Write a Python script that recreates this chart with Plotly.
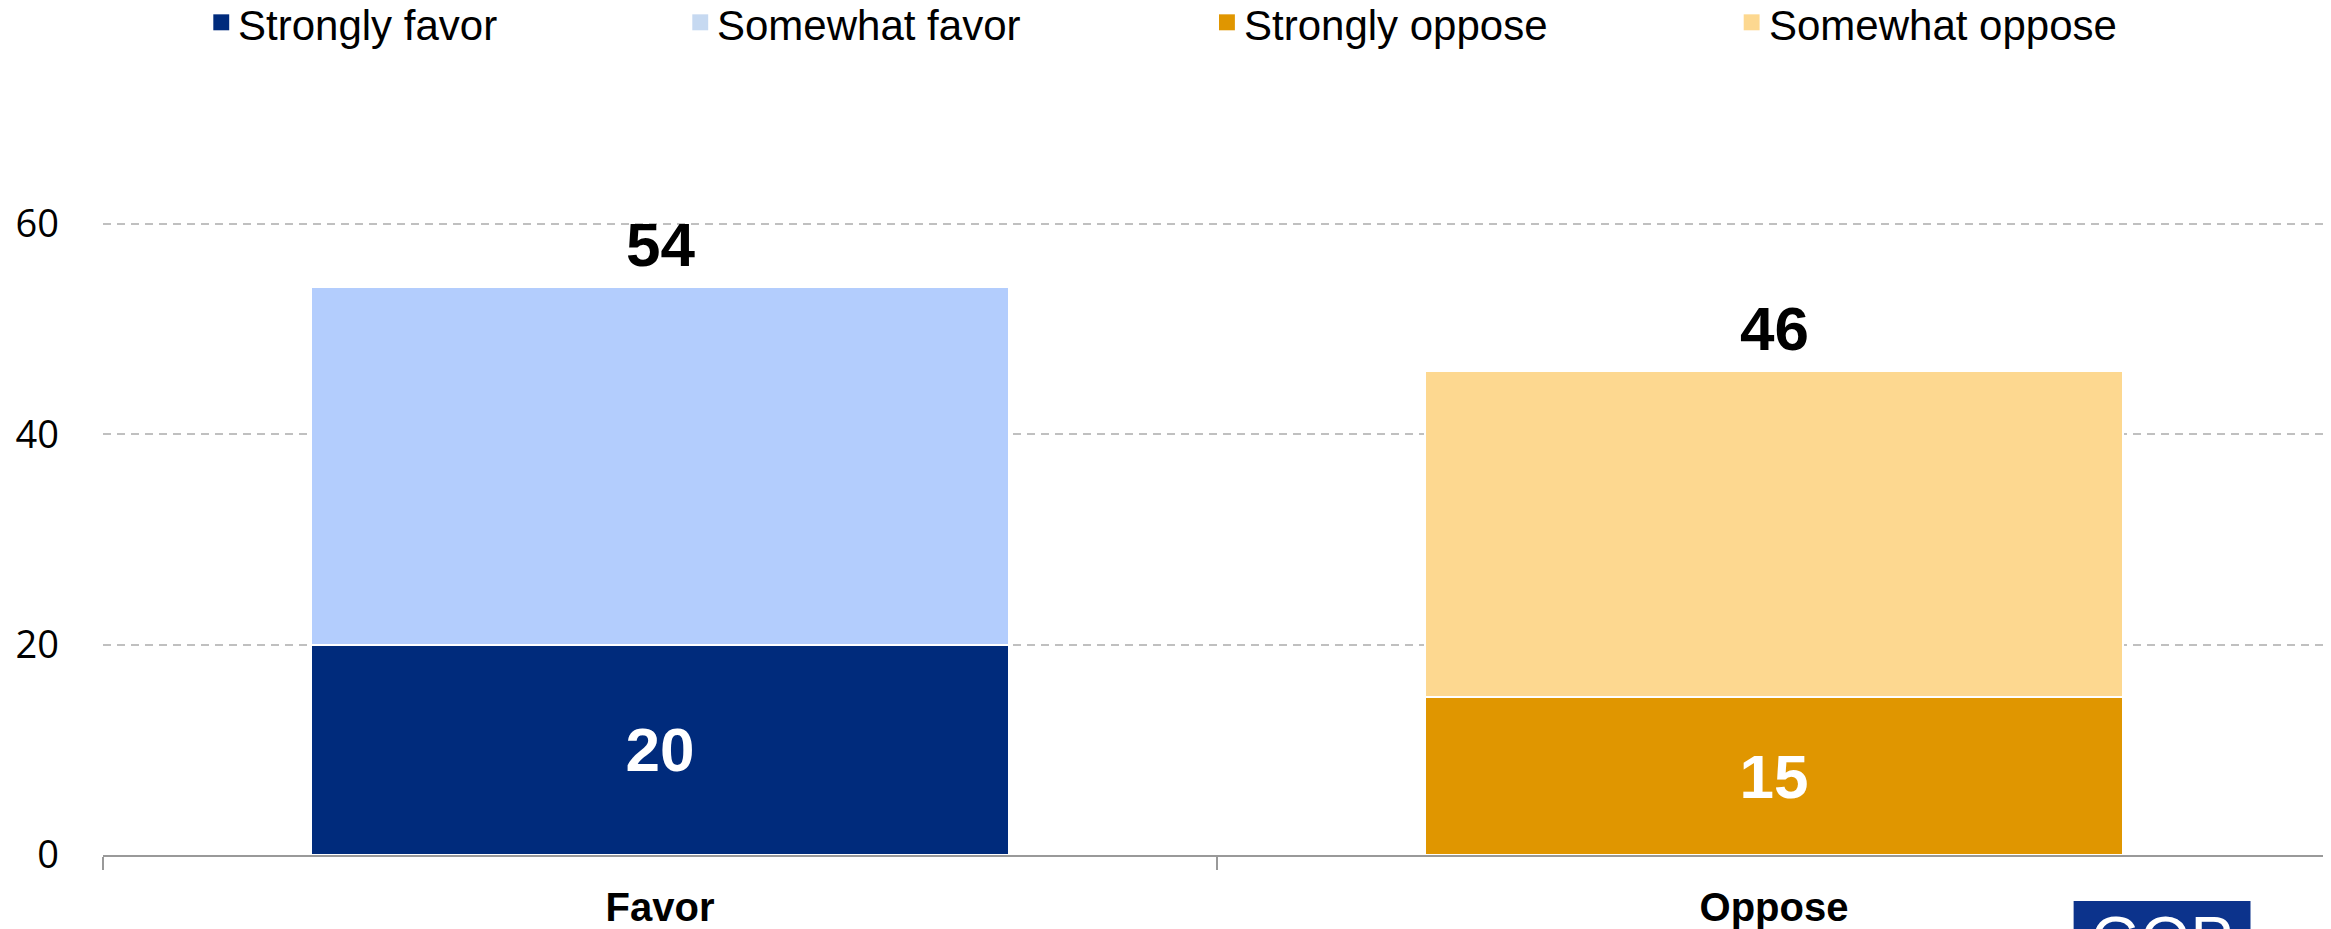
import plotly.graph_objects as go

categories = ["Favor", "Oppose"]
series_names = ["Strongly favor", "Somewhat favor", "Strongly oppose", "Somewhat oppose"]
series_x = [["Favor"], ["Favor"], ["Oppose"], ["Oppose"]]
series_values = [[20], [34], [15], [31]]
series_colors = ["#002B7C", "#B3CDFD", "#E09600", "#FDD890"]
legend_colors = ["#002B7C", "#C6D9F1", "#E09600", "#FDD890"]
show_inside_label = [True, False, True, False]
totals = [54, 46]
y_ticks = [0, 20, 40, 60]

# page offset (browser default body margin)
OFF = 8
W, H = 2331, 929
ML, MR, MT, MB = 81, 8, 213, 81
PW = W - ML - MR
PH = H - MT - MB


def sx(px):
    """screen x pixel -> paper x"""
    return (px - OFF - ML) / PW


def sy(py):
    """screen y pixel -> paper y"""
    return (H - MB - (py - OFF)) / PH


fig = go.Figure()

for i, name in enumerate(series_names):
    fig.add_trace(go.Bar(
        name=name,
        x=series_x[i],
        y=series_values[i],
        marker=dict(color=series_colors[i], line=dict(color="white", width=2)),
        text=[str(v) for v in series_values[i]] if show_inside_label[i] else None,
        textposition="inside" if show_inside_label[i] else "none",
        insidetextanchor="middle",
        textangle=0,
        textfont=dict(family="Liberation Sans, Arial, sans-serif", size=62, color="white", weight="bold"),
        showlegend=False,
        hoverinfo="skip",
        cliponaxis=False,
    ))

for c, t in zip(categories, totals):
    fig.add_annotation(
        x=c, y=t, xref="x", yref="y",
        text="<b>%d</b>" % t,
        showarrow=False,
        yanchor="bottom",
        yshift=6,
        font=dict(family="Liberation Sans, Arial, sans-serif", size=62, color="black"),
    )

# legend row (drawn as marks + text at the top)
legend_marker_centers = [208, 690, 1220, 1748]
LEG_Y = 25
SQ = 8
for name, col, mc in zip(series_names, legend_colors, legend_marker_centers):
    fig.add_shape(
        type="rect", xref="paper", yref="paper",
        x0=sx(mc - SQ), x1=sx(mc + SQ), y0=sy(LEG_Y - 3 + SQ), y1=sy(LEG_Y - 3 - SQ),
        fillcolor=col, line=dict(width=0), layer="above",
    )
    fig.add_annotation(
        x=sx(mc + 15), y=sy(LEG_Y), xref="paper", yref="paper",
        text=name, showarrow=False, xanchor="left", yanchor="middle",
        font=dict(family="Liberation Sans, Arial, sans-serif", size=42, color="black"),
    )

# logo block at bottom right
fig.add_shape(
    type="rect", xref="paper", yref="paper",
    x0=sx(2072), x1=sx(2250),
    y0=sy(960), y1=sy(902),
    fillcolor="#0C338C", line=dict(width=0), layer="above",
)
fig.add_annotation(
    x=sx(2161), y=sy(903), xref="paper", yref="paper",
    text="GOP", showarrow=False, xanchor="center", yanchor="top",
    font=dict(family="Liberation Sans, Arial, sans-serif", size=64, color="white"),
)

fig.update_layout(
    width=W, height=H,
    margin=dict(l=ML, r=MR, t=MT, b=MB, pad=0),
    paper_bgcolor="white",
    plot_bgcolor="white",
    barmode="stack",
    bargap=0.373,
    showlegend=False,
)

fig.update_xaxes(
    type="category",
    categoryorder="array",
    categoryarray=categories,
    showline=True, linecolor="#999999", linewidth=2,
    ticks="outside", tickson="boundaries", ticklen=13, tickwidth=2, tickcolor="#999999",
    showgrid=False,
    tickfont=dict(family="Liberation Sans, Arial, sans-serif", size=40, color="black", weight="bold"),
    ticklabelstandoff=16,
)

fig.update_yaxes(
    range=[0, 60.3],
    tickvals=y_ticks,
    ticktext=[str(v) for v in y_ticks],
    showgrid=True, gridcolor="#C0C0C0", gridwidth=2, griddash="8px,6px",
    zeroline=False,
    showline=False,
    ticks="",
    tickfont=dict(family="Open Sans, sans-serif", size=38, color="black"),
    ticklabelstandoff=43,
)

fig.write_html("out.html")
